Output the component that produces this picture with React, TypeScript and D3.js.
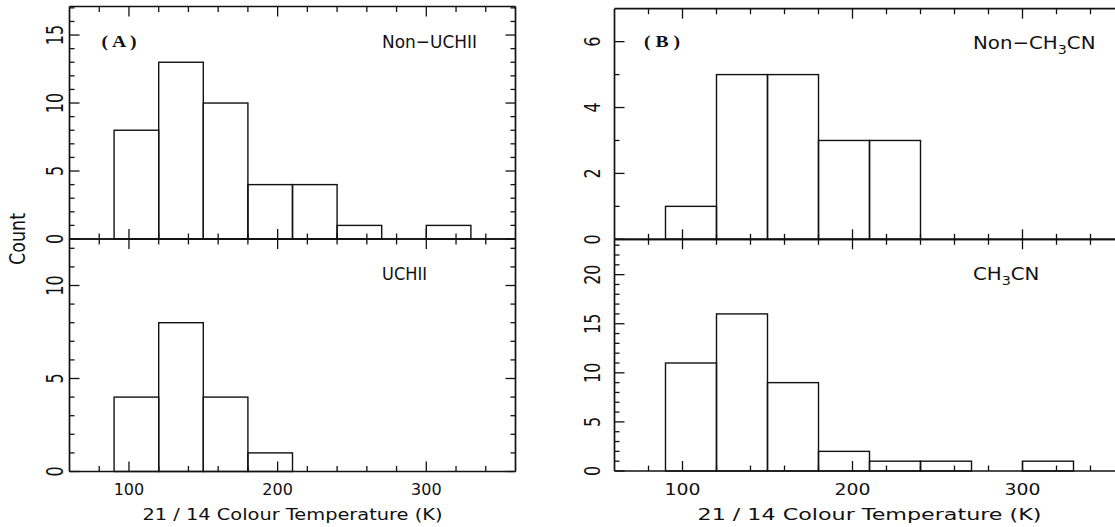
import React from "react";
import * as d3 from "d3";

// Bin edges (K) shared by all histograms: 90-120, 120-150, ... 300-330
const binEdges = [90, 120, 150, 180, 210, 240, 270, 300, 330];
// Counts per bin
const nonUchiiCounts = [8, 13, 10, 4, 4, 1, 0, 1];
const uchiiCounts = [4, 8, 4, 1, 0, 0, 0, 0];
const nonCh3cnCounts = [1, 5, 5, 3, 3, 0, 0, 0];
const ch3cnCounts = [11, 16, 9, 2, 1, 1, 0, 1];

const xDomain = [60, 360];
const xMajorTicks = [100, 200, 300];
const xMinorTicks = [80, 120, 140, 160, 180, 220, 240, 260, 280, 320, 340];

const xTitle = "21 / 14 Colour Temperature (K)";

const FONT = "'DejaVu Sans', sans-serif";
const INK = "#111";
const BAR_W = 1.4;
const FRAME_W = 1.7;

type PanelProps = {
  x: d3.ScaleLinear<number, number>;
  y: d3.ScaleLinear<number, number>;
  counts: number[];
  yMajor: number[];
  yMinor: number[];
  labelX: number;
  labelStretch: number;
  drawRight: boolean;
};

function Panel({ x, y, counts, yMajor, yMinor, labelX, labelStretch, drawRight }: PanelProps) {
  const [x0, x1] = x.range();
  const [yb, yt] = y.range();
  const ticksX = [
    ...xMajorTicks.map((v) => ({ v, len: 10 })),
    ...xMinorTicks.map((v) => ({ v, len: 5.5 })),
  ];
  const ticksY = [
    ...yMajor.map((v) => ({ v, len: 10 })),
    ...yMinor.map((v) => ({ v, len: 5 })),
  ];
  return (
    <g>
      {counts.map((c, i) =>
        c > 0 ? (
          <rect
            key={i}
            x={x(binEdges[i])}
            y={y(c)}
            width={x(binEdges[i + 1]) - x(binEdges[i])}
            height={y(0) - y(c)}
            fill="none"
            stroke={INK}
            strokeWidth={BAR_W}
          />
        ) : null
      )}
      <line x1={x0} x2={x1} y1={yt} y2={yt} stroke={INK} strokeWidth={FRAME_W} />
      <line x1={x0} x2={x1} y1={yb} y2={yb} stroke={INK} strokeWidth={FRAME_W} />
      <line x1={x0} x2={x0} y1={yt} y2={yb} stroke={INK} strokeWidth={FRAME_W} />
      {drawRight && <line x1={x1} x2={x1} y1={yt} y2={yb} stroke={INK} strokeWidth={FRAME_W} />}
      {ticksX.map((t, i) => (
        <g key={"xt" + i}>
          <line x1={x(t.v)} x2={x(t.v)} y1={yt} y2={yt + t.len} stroke={INK} strokeWidth={1.3} />
          <line x1={x(t.v)} x2={x(t.v)} y1={yb} y2={yb - t.len} stroke={INK} strokeWidth={1.3} />
        </g>
      ))}
      {ticksY.map((t, i) => (
        <g key={"yt" + i}>
          <line x1={x0} x2={x0 + t.len} y1={y(t.v)} y2={y(t.v)} stroke={INK} strokeWidth={1.3} />
          {drawRight && (
            <line x1={x1} x2={x1 - t.len} y1={y(t.v)} y2={y(t.v)} stroke={INK} strokeWidth={1.3} />
          )}
        </g>
      ))}
      {yMajor.map((v) => (
        <text
          key={"yl" + v}
          transform={`translate(${labelX},${y(v)}) scale(${labelStretch},1) rotate(-90)`}
          textAnchor="middle"
          fontFamily={FONT}
          fontSize={16}
          fill={INK}
        >
          {v}
        </text>
      ))}
    </g>
  );
}

export default function App() {
  const xL = d3.scaleLinear().domain(xDomain).range([69.5, 515.5]);
  const xR = d3.scaleLinear().domain(xDomain).range([614.5, 1124.5]);

  const yLT = d3.scaleLinear().domain([0, 17.1]).range([239, 6.5]);
  const yLB = d3.scaleLinear().domain([0, 12.5]).range([471.5, 239]);
  const yRT = d3.scaleLinear().domain([0, 7.0]).range([239.3, 8.7]);
  const yRB = d3.scaleLinear().domain([0, 23.6]).range([471, 239.3]);

  const minor = (max: number, step: number) =>
    d3.range(1, Math.floor(max - 0.01) + 1).filter((v) => v % step !== 0);

  return (
    <svg
      width={1115}
      height={527}
      style={{ position: "absolute", left: 0, top: 0, background: "#fff" }}
    >
      <rect width={1115} height={527} fill="#fff" />
      <Panel x={xL} y={yLT} counts={nonUchiiCounts} yMajor={[0, 5, 10, 15]} yMinor={minor(17.1, 5)} labelX={63} labelStretch={1.4} drawRight />
      <Panel x={xL} y={yLB} counts={uchiiCounts} yMajor={[0, 5, 10]} yMinor={minor(12.5, 5)} labelX={63} labelStretch={1.4} drawRight />
      <Panel x={xR} y={yRT} counts={nonCh3cnCounts} yMajor={[0, 2, 4, 6]} yMinor={minor(7.0, 2)} labelX={600} labelStretch={1.3} drawRight={false} />
      <Panel x={xR} y={yRB} counts={ch3cnCounts} yMajor={[0, 5, 10, 15, 20]} yMinor={minor(23.6, 5)} labelX={600} labelStretch={1.3} drawRight={false} />

      {xMajorTicks.map((v) => (
        <text key={"lx" + v} x={xL(v)} y={495} textAnchor="middle" fontFamily={FONT} fontSize={16} fill={INK}>
          {v}
        </text>
      ))}
      {xMajorTicks.map((v) => (
        <text key={"rx" + v} x={xR(v)} y={495} textAnchor="middle" fontFamily={FONT} fontSize={16} fill={INK} textLength={36} lengthAdjust="spacingAndGlyphs">
          {v}
        </text>
      ))}

      <text x={(xL.range()[0] + xL.range()[1]) / 2 - 150} y={520} fontFamily={FONT} fontSize={16} fill={INK} textLength={300} lengthAdjust="spacingAndGlyphs">
        {xTitle}
      </text>
      <text x={(xR.range()[0] + xR.range()[1]) / 2 - 172} y={520} fontFamily={FONT} fontSize={16} fill={INK} textLength={344} lengthAdjust="spacingAndGlyphs">
        {xTitle}
      </text>
      <text transform="translate(25,239) scale(1.35,1) rotate(-90)" textAnchor="middle" fontFamily={FONT} fontSize={16} fill={INK} textLength={52} lengthAdjust="spacingAndGlyphs">
        Count
      </text>

      <text x={101.5} y={47} fontFamily="'Liberation Serif', serif" fontWeight="bold" fontSize={17} fill={INK} textLength={35} lengthAdjust="spacingAndGlyphs">
        ( A )
      </text>
      <text x={644} y={47} fontFamily="'Liberation Serif', serif" fontWeight="bold" fontSize={17} fill={INK} textLength={36} lengthAdjust="spacingAndGlyphs">
        ( B )
      </text>
      <text x={382} y={48} fontFamily={FONT} fontSize={18} fill={INK} textLength={95} lengthAdjust="spacingAndGlyphs">
        Non−UCHII
      </text>
      <text x={382} y={279.5} fontFamily={FONT} fontSize={18} fill={INK} textLength={45} lengthAdjust="spacingAndGlyphs">
        UCHII
      </text>
      <text transform="translate(973,48.5) scale(1.1,1)" fontFamily={FONT} fontSize={18} fill={INK}>
        Non−CH<tspan fontSize={13} dy={5}>3</tspan>
        <tspan dy={-5}>CN</tspan>
      </text>
      <text transform="translate(973,280) scale(1.1,1)" fontFamily={FONT} fontSize={18} fill={INK}>
        CH<tspan fontSize={13} dy={5}>3</tspan>
        <tspan dy={-5}>CN</tspan>
      </text>
    </svg>
  );
}
